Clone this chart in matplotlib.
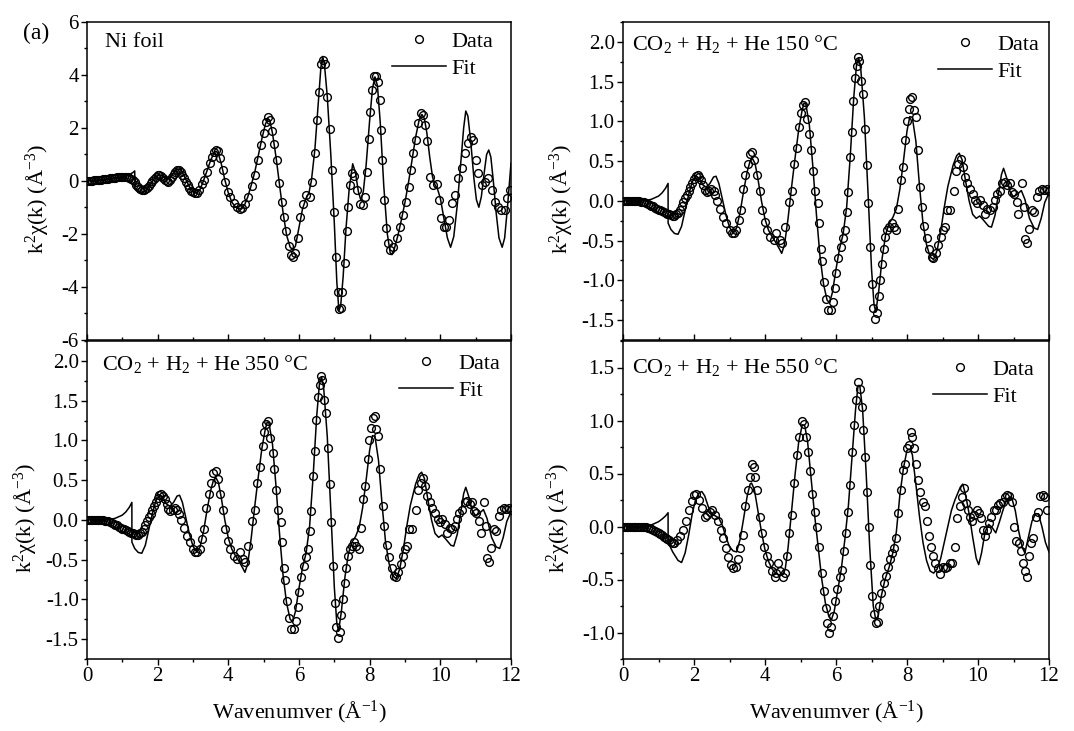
import matplotlib
matplotlib.use('Agg')
import matplotlib.pyplot as plt
from matplotlib.ticker import MultipleLocator, FormatStrFormatter

plt.rcParams['font.family'] = ['Liberation Serif', 'DejaVu Serif']
plt.rcParams['mathtext.fontset'] = 'custom'
plt.rcParams['mathtext.rm'] = 'Liberation Serif'
plt.rcParams['mathtext.it'] = 'Liberation Serif:italic'
plt.rcParams['axes.unicode_minus'] = False

# ---------------- Ni foil ----------------
ni_data_k = [0.00, 0.05, 0.10, 0.15, 0.20, 0.25, 0.30, 0.35, 0.40, 0.45, 0.50, 0.55, 0.60, 0.65, 0.70, 0.75,
             0.80, 0.85, 0.90, 0.95, 1.00, 1.05, 1.10, 1.15, 1.20, 1.25, 1.30, 1.35, 1.40, 1.45, 1.50, 1.55,
             1.60, 1.65, 1.70, 1.75, 1.80, 1.85, 1.90, 1.95, 2.00, 2.05, 2.10, 2.15, 2.20, 2.25, 2.30, 2.35,
             2.40, 2.45, 2.50, 2.55, 2.60, 2.65, 2.70, 2.75, 2.80, 2.85, 2.90, 2.95, 3.00, 3.05, 3.10, 3.17,
             3.25, 3.30, 3.39, 3.49, 3.55, 3.60, 3.65, 3.70, 3.77, 3.85, 3.91, 3.99, 4.05, 4.15, 4.24, 4.32,
             4.40, 4.48, 4.57, 4.67, 4.76, 4.83, 4.92, 5.00, 5.06, 5.12, 5.18, 5.23, 5.29, 5.37, 5.44, 5.51,
             5.58, 5.64, 5.71, 5.78, 5.84, 5.90, 5.96, 6.03, 6.12, 6.21, 6.30, 6.38, 6.45, 6.51, 6.58, 6.63,
             6.68, 6.73, 6.80, 6.87, 6.93, 7.00, 7.05, 7.09, 7.13, 7.18, 7.23, 7.29, 7.35, 7.40, 7.45, 7.50,
             7.57, 7.65, 7.72, 7.80, 7.87, 7.92, 7.97, 8.02, 8.07, 8.13, 8.18, 8.23, 8.28, 8.32, 8.36, 8.41,
             8.46, 8.51, 8.58, 8.66, 8.76, 8.86, 8.95, 9.03, 9.10, 9.16, 9.24, 9.31, 9.38, 9.45, 9.52, 9.57,
             9.62, 9.71, 9.80, 9.90, 9.97, 10.03, 10.10, 10.17, 10.24, 10.32, 10.41, 10.50, 10.60, 10.70, 10.79, 10.86,
             10.93, 11.01, 11.07, 11.17, 11.26, 11.36, 11.45, 11.55, 11.64, 11.73, 11.83, 11.90, 11.97]
ni_data_v = [0.00, 0.00, 0.01, 0.01, 0.02, 0.02, 0.03, 0.04, 0.05, 0.06, 0.07, 0.08, 0.09, 0.10, 0.11, 0.12,
             0.13, 0.14, 0.15, 0.15, 0.16, 0.16, 0.15, 0.14, 0.12, 0.08, 0.03, -0.05, -0.15, -0.24, -0.31, -0.35,
             -0.35, -0.32, -0.26, -0.18, -0.09, 0.00, 0.09, 0.16, 0.21, 0.22, 0.19, 0.12, 0.05, 0.00, -0.02, 0.04,
             0.14, 0.26, 0.35, 0.40, 0.41, 0.35, 0.24, 0.10, -0.04, -0.16, -0.27, -0.37, -0.43, -0.46, -0.45, -0.33,
             -0.12, 0.04, 0.35, 0.67, 0.92, 1.10, 1.17, 1.12, 0.85, 0.41, -0.03, -0.40, -0.60, -0.84, -0.97, -1.05,
             -1.02, -0.86, -0.60, -0.20, 0.23, 0.80, 1.36, 1.80, 2.24, 2.43, 2.32, 1.88, 1.39, 0.80, -0.09, -0.78,
             -1.35, -1.90, -2.45, -2.80, -2.88, -2.72, -2.15, -1.35, -0.85, -0.53, -0.60, -0.05, 1.04, 2.30, 3.37, 4.40,
             4.56, 4.40, 3.18, 1.98, 0.41, -1.16, -2.85, -4.17, -4.84, -4.78, -4.17, -3.10, -1.90, -0.97, -0.15, 0.29,
             0.18, -0.35, -0.85, -0.90, -0.60, 0.35, 1.60, 2.60, 3.43, 3.95, 3.95, 3.74, 3.05, 1.92, 0.80, -0.72,
             -1.78, -2.35, -2.60, -2.50, -2.16, -1.72, -1.28, -0.78, -0.21, 0.41, 1.04, 1.55, 2.17, 2.55, 2.49, 2.11,
             1.50, 0.16, -0.15, -0.12, -0.72, -1.40, -1.75, -1.72, -1.47, -0.84, -0.53, 0.10, 0.48, 1.04, 1.42, 1.65,
             1.55, 0.80, 0.29, -0.15, -0.03, 0.10, -0.34, -0.78, -0.97, -1.09, -1.09, -0.65, -0.34]
ni_fit_k = [0.00, 0.50, 0.90, 1.10, 1.20, 1.30, 1.35, 1.36, 1.45, 1.55, 1.65, 1.75, 1.85, 1.95, 2.05, 2.15,
            2.25, 2.35, 2.45, 2.55, 2.62, 2.70, 2.80, 2.90, 3.00, 3.10, 3.20, 3.30, 3.40, 3.50, 3.60, 3.66,
            3.72, 3.80, 3.90, 4.00, 4.10, 4.20, 4.30, 4.38, 4.46, 4.55, 4.65, 4.75, 4.85, 4.95, 5.05, 5.12,
            5.18, 5.25, 5.35, 5.45, 5.55, 5.65, 5.75, 5.83, 5.90, 6.00, 6.10, 6.20, 6.28, 6.35, 6.45, 6.55,
            6.62, 6.67, 6.72, 6.80, 6.90, 7.00, 7.07, 7.13, 7.18, 7.25, 7.33, 7.42, 7.52, 7.60, 7.68, 7.75,
            7.82, 7.90, 8.00, 8.08, 8.15, 8.22, 8.30, 8.40, 8.50, 8.58, 8.63, 8.70, 8.80, 8.90, 9.00, 9.10,
            9.20, 9.30, 9.40, 9.48, 9.55, 9.62, 9.70, 9.78, 9.85, 9.92, 10.00, 10.10, 10.20, 10.29, 10.38, 10.48,
            10.58, 10.66, 10.72, 10.78, 10.86, 10.95, 11.02, 11.09, 11.16, 11.25, 11.31, 11.37, 11.43, 11.50, 11.58, 11.66,
            11.75, 11.82, 11.90, 11.96, 12.00]
ni_fit_v = [0.00, 0.06, 0.14, 0.18, 0.24, 0.32, 0.38, -0.30, -0.42, -0.45, -0.38, -0.22, -0.02, 0.16, 0.24, 0.18,
            0.08, 0.12, 0.30, 0.44, 0.46, 0.33, 0.05, -0.22, -0.40, -0.46, -0.32, 0.02, 0.40, 0.78, 1.08, 1.12,
            1.02, 0.65, 0.05, -0.45, -0.80, -0.98, -1.05, -1.05, -0.90, -0.60, -0.15, 0.35, 0.98, 1.60, 2.15, 2.35,
            2.25, 1.80, 0.90, -0.15, -1.20, -2.05, -2.50, -2.60, -2.45, -1.75, -1.05, -0.65, -0.45, 0.00, 1.20, 3.00,
            4.30, 4.70, 4.40, 3.20, 1.00, -1.60, -3.80, -4.90, -4.70, -3.60, -1.80, -0.30, 0.65, 0.30, -0.40, -0.72,
            -0.40, 0.60, 2.30, 3.50, 3.93, 3.60, 2.20, -0.20, -2.00, -2.70, -2.78, -2.55, -2.05, -1.45, -0.80, -0.05,
            0.80, 1.65, 2.30, 2.51, 2.35, 1.80, 0.90, 0.15, -0.15, -0.30, -0.65, -1.40, -2.15, -2.50, -2.10, -0.90,
            0.70, 2.00, 2.64, 2.45, 1.50, 0.10, -0.70, -0.99, -0.60, 0.40, 1.00, 1.17, 0.90, 0.00, -1.20, -2.15,
            -2.50, -2.15, -1.00, 0.00, 0.67]

# ---------------- CO2 + H2 + He 150 C (350 C panel shows the same curves) ----------------
t150_data_k = [0.00, 0.05, 0.10, 0.15, 0.20, 0.25, 0.30, 0.35, 0.40, 0.45, 0.50, 0.55, 0.60, 0.65, 0.70, 0.75,
               0.80, 0.85, 0.90, 0.95, 1.00, 1.05, 1.10, 1.15, 1.20, 1.25, 1.30, 1.35, 1.40, 1.45, 1.50, 1.55,
               1.60, 1.65, 1.70, 1.75, 1.80, 1.85, 1.90, 1.95, 2.00, 2.05, 2.10, 2.15, 2.20, 2.25, 2.30, 2.36,
               2.42, 2.48, 2.55, 2.60, 2.65, 2.74, 2.83, 2.91, 3.00, 3.06, 3.12, 3.19, 3.26, 3.32, 3.38, 3.44,
               3.51, 3.58, 3.64, 3.70, 3.77, 3.85, 3.91, 3.99, 4.05, 4.15, 4.24, 4.32, 4.41, 4.47, 4.57, 4.68,
               4.76, 4.82, 4.90, 4.97, 5.02, 5.08, 5.13, 5.18, 5.25, 5.30, 5.35, 5.41, 5.48, 5.53, 5.57, 5.61,
               5.67, 5.72, 5.78, 5.85, 5.91, 5.96, 6.00, 6.07, 6.14, 6.19, 6.26, 6.30, 6.35, 6.40, 6.44, 6.49,
               6.54, 6.59, 6.62, 6.66, 6.70, 6.75, 6.82, 6.87, 6.91, 6.96, 7.01, 7.05, 7.10, 7.15, 7.20, 7.24,
               7.29, 7.34, 7.38, 7.43, 7.50, 7.57, 7.62, 7.69, 7.76, 7.82, 7.88, 7.95, 7.99, 8.05, 8.09, 8.14,
               8.19, 8.25, 8.30, 8.37, 8.41, 8.48, 8.56, 8.63, 8.70, 8.74, 8.81, 8.88, 8.95, 9.01, 9.07, 9.12,
               9.21, 9.31, 9.38, 9.45, 9.51, 9.57, 9.63, 9.70, 9.77, 9.85, 9.92, 9.98, 10.06, 10.13, 10.20, 10.26,
               10.34, 10.41, 10.48, 10.54, 10.62, 10.69, 10.76, 10.83, 10.90, 10.95, 11.01, 11.09, 11.14, 11.23, 11.29, 11.33,
               11.37, 11.44, 11.51, 11.57, 11.65, 11.72, 11.79, 11.86, 11.93, 12.00]
t150_data_v = [0.00, 0.00, 0.00, 0.00, 0.00, 0.00, 0.00, 0.00, 0.00, 0.00, -0.01, -0.01, -0.02, -0.03, -0.04, -0.05,
               -0.06, -0.07, -0.09, -0.10, -0.11, -0.12, -0.13, -0.14, -0.15, -0.16, -0.17, -0.18, -0.19, -0.19, -0.17, -0.15,
               -0.11, -0.07, -0.02, 0.03, 0.07, 0.12, 0.18, 0.23, 0.28, 0.31, 0.32, 0.30, 0.26, 0.20, 0.14, 0.11,
               0.12, 0.15, 0.13, 0.07, 0.00, -0.10, -0.20, -0.28, -0.37, -0.40, -0.41, -0.37, -0.24, -0.12, 0.15, 0.32,
               0.47, 0.59, 0.61, 0.51, 0.32, 0.13, -0.12, -0.26, -0.37, -0.45, -0.49, -0.41, -0.49, -0.53, -0.33, -0.01,
               0.13, 0.47, 0.66, 0.93, 1.10, 1.21, 1.24, 1.03, 0.84, 0.64, 0.38, 0.13, -0.03, -0.28, -0.60, -0.76,
               -1.02, -1.24, -1.37, -1.37, -1.27, -1.09, -0.91, -0.72, -0.58, -0.47, -0.37, -0.14, 0.11, 0.55, 0.87, 1.26,
               1.55, 1.70, 1.81, 1.76, 1.51, 1.35, 0.91, 0.45, -0.03, -0.58, -1.04, -1.35, -1.48, -1.41, -1.20, -0.99,
               -0.79, -0.60, -0.45, -0.37, -0.33, -0.28, -0.33, -0.37, -0.10, 0.26, 0.43, 0.76, 1.01, 1.16, 1.28, 1.31,
               1.14, 1.05, 0.64, 0.18, -0.08, -0.32, -0.47, -0.60, -0.70, -0.72, -0.66, -0.56, -0.45, -0.37, -0.33, -0.12,
               -0.12, 0.13, 0.38, 0.47, 0.53, 0.43, 0.30, 0.22, 0.15, 0.09, 0.01, -0.03, 0.01, -0.05, -0.16, -0.10,
               -0.12, -0.08, 0.01, 0.09, 0.13, 0.22, 0.24, 0.20, 0.22, 0.11, 0.09, -0.01, -0.16, 0.22, -0.08, -0.48,
               -0.53, -0.36, -0.12, -0.14, 0.05, 0.13, 0.15, 0.14, 0.15, 0.13]
t150_fit_k = [0.00, 0.60, 0.80, 1.00, 1.10, 1.20, 1.27, 1.271, 1.35, 1.45, 1.55, 1.65, 1.75, 1.85, 1.95, 2.05,
              2.15, 2.25, 2.35, 2.45, 2.55, 2.62, 2.70, 2.80, 2.90, 3.00, 3.10, 3.20, 3.30, 3.40, 3.50, 3.58,
              3.65, 3.72, 3.80, 3.90, 4.00, 4.10, 4.20, 4.30, 4.40, 4.47, 4.55, 4.65, 4.75, 4.85, 4.95, 5.05,
              5.10, 5.15, 5.25, 5.35, 5.45, 5.55, 5.65, 5.75, 5.82, 5.90, 6.00, 6.10, 6.20, 6.30, 6.40, 6.50,
              6.58, 6.64, 6.70, 6.80, 6.90, 7.00, 7.07, 7.12, 7.20, 7.30, 7.40, 7.50, 7.60, 7.70, 7.80, 7.90,
              8.00, 8.08, 8.15, 8.25, 8.35, 8.45, 8.55, 8.65, 8.75, 8.85, 8.95, 9.05, 9.15, 9.30, 9.40, 9.47,
              9.55, 9.65, 9.75, 9.85, 9.95, 10.05, 10.15, 10.30, 10.38, 10.48, 10.58, 10.66, 10.72, 10.80, 10.90, 11.00,
              11.10, 11.22, 11.32, 11.45, 11.58, 11.68, 11.78, 11.88, 12.00]
t150_fit_v = [0.00, 0.00, 0.02, 0.06, 0.10, 0.16, 0.22, -0.28, -0.36, -0.41, -0.42, -0.32, -0.12, 0.08, 0.24, 0.31,
              0.28, 0.20, 0.17, 0.22, 0.30, 0.31, 0.22, 0.02, -0.18, -0.33, -0.40, -0.34, -0.14, 0.13, 0.37, 0.50,
              0.53, 0.47, 0.28, 0.00, -0.23, -0.37, -0.45, -0.52, -0.60, -0.66, -0.55, -0.22, 0.18, 0.55, 0.90, 1.15,
              1.23, 1.22, 0.95, 0.42, -0.18, -0.70, -1.05, -1.25, -1.28, -1.15, -0.86, -0.60, -0.42, -0.08, 0.55, 1.30,
              1.72, 1.80, 1.65, 1.05, 0.12, -0.85, -1.30, -1.40, -1.15, -0.72, -0.42, -0.28, -0.21, -0.10, 0.15, 0.50,
              0.88, 1.06, 1.05, 0.75, 0.20, -0.28, -0.55, -0.70, -0.74, -0.62, -0.38, -0.08, 0.18, 0.45, 0.57, 0.60,
              0.52, 0.25, 0.00, -0.17, -0.22, -0.19, -0.24, -0.32, -0.33, -0.18, 0.10, 0.33, 0.41, 0.30, 0.12, 0.05,
              0.08, 0.13, 0.02, -0.22, -0.34, -0.36, -0.22, -0.02, 0.10]

# ---------------- CO2 + H2 + He 550 C ----------------
t550_data_k = [0.00, 0.05, 0.10, 0.15, 0.20, 0.25, 0.30, 0.35, 0.40, 0.45, 0.50, 0.55, 0.60, 0.65, 0.70, 0.75,
               0.80, 0.85, 0.90, 0.95, 1.00, 1.05, 1.10, 1.15, 1.20, 1.25, 1.30, 1.35, 1.40, 1.45, 1.52, 1.60,
               1.70, 1.78, 1.86, 1.93, 2.00, 2.07, 2.15, 2.22, 2.30, 2.38, 2.45, 2.52, 2.60, 2.67, 2.75, 2.82,
               2.90, 2.97, 3.04, 3.10, 3.17, 3.24, 3.30, 3.38, 3.45, 3.52, 3.58, 3.62, 3.68, 3.72, 3.78, 3.85,
               3.92, 3.98, 4.05, 4.12, 4.20, 4.27, 4.32, 4.37, 4.43, 4.50, 4.57, 4.62, 4.68, 4.75, 4.82, 4.90,
               4.97, 5.03, 5.10, 5.15, 5.20, 5.27, 5.33, 5.40, 5.47, 5.53, 5.60, 5.67, 5.72, 5.76, 5.80, 5.86,
               5.92, 5.98, 6.04, 6.10, 6.16, 6.22, 6.28, 6.34, 6.40, 6.46, 6.52, 6.57, 6.62, 6.67, 6.72, 6.77,
               6.82, 6.87, 6.92, 6.97, 7.02, 7.07, 7.12, 7.17, 7.22, 7.28, 7.34, 7.40, 7.46, 7.52, 7.58, 7.64,
               7.70, 7.76, 7.82, 7.88, 7.94, 8.00, 8.06, 8.10, 8.15, 8.20, 8.26, 8.32, 8.38, 8.44, 8.50, 8.56,
               8.62, 8.68, 8.74, 8.80, 8.86, 8.93, 9.00, 9.07, 9.14, 9.20, 9.28, 9.35, 9.42, 9.48, 9.55, 9.60,
               9.66, 9.72, 9.78, 9.84, 9.90, 9.96, 10.02, 10.08, 10.14, 10.20, 10.26, 10.32, 10.38, 10.44, 10.50, 10.56,
               10.62, 10.70, 10.76, 10.82, 10.88, 10.95, 11.00, 11.08, 11.15, 11.22, 11.28, 11.33, 11.38, 11.44, 11.50, 11.56,
               11.62, 11.68, 11.75, 11.82, 11.88, 11.95]
t550_data_v = [0.00, 0.00, 0.00, 0.00, 0.00, 0.00, 0.00, 0.00, 0.00, 0.00, 0.00, 0.00, 0.00, -0.005, -0.01, -0.015,
               -0.02, -0.03, -0.04, -0.05, -0.06, -0.07, -0.08, -0.095, -0.11, -0.12, -0.13, -0.145, -0.155, -0.16, -0.13, -0.09,
               -0.03, 0.05, 0.16, 0.24, 0.30, 0.31, 0.25, 0.17, 0.09, 0.11, 0.14, 0.16, 0.11, 0.05, -0.03, -0.11,
               -0.20, -0.29, -0.36, -0.39, -0.38, -0.31, -0.20, -0.08, 0.19, 0.34, 0.47, 0.59, 0.56, 0.47, 0.34, 0.09,
               -0.06, -0.19, -0.28, -0.34, -0.42, -0.48, -0.44, -0.34, -0.42, -0.48, -0.44, -0.28, -0.06, 0.11, 0.41, 0.67,
               0.84, 1.00, 0.97, 0.84, 0.70, 0.52, 0.31, 0.14, 0.00, -0.19, -0.44, -0.61, -0.77, -0.91, -1.00, -0.95,
               -0.84, -0.70, -0.59, -0.48, -0.41, -0.23, -0.06, 0.14, 0.39, 0.70, 0.96, 1.19, 1.36, 1.30, 1.13, 0.91,
               0.66, 0.33, 0.00, -0.36, -0.66, -0.83, -0.91, -0.90, -0.75, -0.63, -0.53, -0.47, -0.38, -0.31, -0.25, -0.20,
               -0.11, 0.13, 0.34, 0.53, 0.59, 0.74, 0.77, 0.89, 0.84, 0.74, 0.59, 0.44, 0.33, 0.23, 0.19, 0.05,
               -0.09, -0.19, -0.28, -0.34, -0.39, -0.45, -0.38, -0.39, -0.38, -0.34, -0.34, -0.19, 0.08, 0.19, 0.28, 0.36,
               0.22, 0.16, 0.09, 0.05, 0.11, 0.16, 0.13, 0.08, -0.03, -0.09, -0.03, 0.03, 0.09, 0.16, 0.16, 0.20,
               0.22, 0.23, 0.28, 0.30, 0.29, 0.23, 0.00, -0.14, -0.16, -0.23, -0.34, -0.42, -0.48, -0.28, -0.16, -0.11,
               0.09, 0.14, 0.29, 0.30, 0.28, 0.16]
t550_fit_k = [0.00, 0.60, 0.80, 1.00, 1.10, 1.20, 1.27, 1.271, 1.40, 1.55, 1.65, 1.75, 1.85, 1.95, 2.05, 2.15,
              2.22, 2.30, 2.40, 2.50, 2.60, 2.70, 2.80, 2.90, 3.00, 3.10, 3.20, 3.30, 3.40, 3.50, 3.58, 3.62,
              3.70, 3.80, 3.90, 4.00, 4.10, 4.20, 4.30, 4.40, 4.50, 4.57, 4.65, 4.75, 4.85, 4.95, 5.05, 5.12,
              5.20, 5.30, 5.40, 5.50, 5.60, 5.70, 5.80, 5.87, 5.95, 6.05, 6.15, 6.25, 6.35, 6.45, 6.55, 6.62,
              6.67, 6.75, 6.85, 6.95, 7.05, 7.12, 7.18, 7.28, 7.38, 7.50, 7.60, 7.70, 7.80, 7.90, 8.00, 8.08,
              8.15, 8.25, 8.35, 8.45, 8.55, 8.65, 8.75, 8.85, 8.95, 9.05, 9.15, 9.25, 9.35, 9.50, 9.57, 9.65,
              9.75, 9.85, 9.95, 10.02, 10.10, 10.20, 10.30, 10.40, 10.50, 10.60, 10.70, 10.80, 10.90, 10.95, 11.05, 11.15,
              11.25, 11.32, 11.42, 11.52, 11.62, 11.70, 11.80, 11.90, 12.00]
t550_fit_v = [0.00, 0.00, 0.015, 0.045, 0.07, 0.10, 0.13, -0.15, -0.24, -0.32, -0.34, -0.25, -0.08, 0.12, 0.26, 0.32,
              0.33, 0.29, 0.19, 0.12, 0.10, 0.08, 0.01, -0.10, -0.19, -0.23, -0.24, -0.12, 0.08, 0.29, 0.40, 0.41,
              0.35, 0.15, -0.05, -0.22, -0.33, -0.40, -0.44, -0.46, -0.45, -0.40, -0.20, 0.15, 0.50, 0.80, 0.96, 0.95,
              0.80, 0.45, 0.10, -0.20, -0.50, -0.72, -0.85, -0.88, -0.80, -0.60, -0.40, -0.12, 0.20, 0.65, 1.10, 1.33,
              1.33, 1.10, 0.50, -0.20, -0.75, -0.88, -0.86, -0.65, -0.50, -0.38, -0.25, -0.05, 0.30, 0.55, 0.72, 0.73,
              0.68, 0.40, 0.10, -0.15, -0.32, -0.42, -0.44, -0.40, -0.30, -0.15, 0.00, 0.15, 0.25, 0.37, 0.40, 0.30,
              0.12, -0.10, -0.30, -0.36, -0.25, -0.05, 0.02, -0.01, -0.06, 0.04, 0.15, 0.25, 0.28, 0.27, 0.15, -0.05,
              -0.20, -0.25, -0.10, 0.05, 0.12, 0.12, 0.00, -0.15, -0.24]

# ---------------- panel settings ----------------
panel_titles = ['Ni foil', r'CO$_2$ + H$_2$ + He 150 °C',
                r'CO$_2$ + H$_2$ + He 350 °C', r'CO$_2$ + H$_2$ + He 550 °C']
x_ticks_major = 2
y_limits = [(-6, 6), (-1.75, 2.25), (-1.75, 2.25), (-1.25, 1.75)]
y_major = [2, 0.5, 0.5, 0.5]
y_fmt = ['%d', '%.1f', '%.1f', '%.1f']

series = [(ni_data_k, ni_data_v, ni_fit_k, ni_fit_v),
          (t150_data_k, t150_data_v, t150_fit_k, t150_fit_v),
          (t150_data_k, t150_data_v, t150_fit_k, t150_fit_v),
          (t550_data_k, t550_data_v, t550_fit_k, t550_fit_v)]

W, H = 1074, 731
# axes boxes in pixels: (left, top, right, bottom)
boxes = [(87, 22, 511, 340), (623, 22, 1049, 340), (87, 341, 511, 659), (623, 341, 1049, 659)]
title_off = [(18, 21), (9, 22), (15, 23), (9, 26)]
legend_off = [(18, 9), (10, 12), (11, 12), (15, 18)]
ylabel_x = [37, 561, 25, 558]

fig = plt.figure(figsize=(W / 100, H / 100), dpi=100)

for i in range(4):
    l, t, r, b = boxes[i]
    ax = fig.add_axes([l / W, 1 - b / H, (r - l) / W, (b - t) / H])
    dk, dv, fk, fv = series[i]
    ax.plot(dk, dv, 'o', mfc='none', mec='black', ms=5.6, mew=1.0, label='Data', zorder=3)
    ax.plot(fk, fv, '-', color='black', lw=1.1, label='Fit', zorder=2)
    ax.set_xlim(0, 12)
    ax.set_ylim(*y_limits[i])
    ax.xaxis.set_major_locator(MultipleLocator(x_ticks_major))
    ax.xaxis.set_minor_locator(MultipleLocator(1))
    ax.yaxis.set_major_locator(MultipleLocator(y_major[i]))
    ax.yaxis.set_minor_locator(MultipleLocator(y_major[i] / 2))
    ax.yaxis.set_major_formatter(FormatStrFormatter(y_fmt[i]))
    for s in ax.spines.values():
        s.set_linewidth(1.1)
    ax.tick_params(which='both', direction='out', width=1.0, labelsize=15, pad=2,
                   top=False, right=False)
    ax.tick_params(which='major', length=4)
    ax.tick_params(which='minor', length=2.5)
    if i < 2:
        ax.tick_params(axis='x', which='both', direction='in', labelbottom=False)
    else:
        ax.set_xlabel('Wavenumver (Å$^{-1}$)', fontsize=16, labelpad=9)
    ax.set_ylabel('k$^{2}$χ(k) (Å$^{-3}$)', fontsize=16)
    ax.yaxis.label.set_va('center')
    ax.yaxis.set_label_coords((ylabel_x[i] - l) / (r - l), 0.445)

    dx, dy = title_off[i]
    ax.annotate(panel_titles[i], xy=(0, 1), xycoords='axes fraction',
                xytext=(dx, -dy), textcoords='offset pixels',
                ha='left', va='center', fontsize=16)
    lx, ly = legend_off[i]
    ax.legend(loc='upper right', bbox_to_anchor=(1 - lx / (r - l), 1 - ly / (b - t)),
              frameon=False, fontsize=16, handlelength=2.4, handletextpad=0.25,
              labelspacing=0.3, borderpad=0, borderaxespad=0, numpoints=1)

fig.text(23 / W, 1 - 33 / H, '(a)', ha='left', va='center', fontsize=17)

fig.savefig('out.png', dpi=100)
